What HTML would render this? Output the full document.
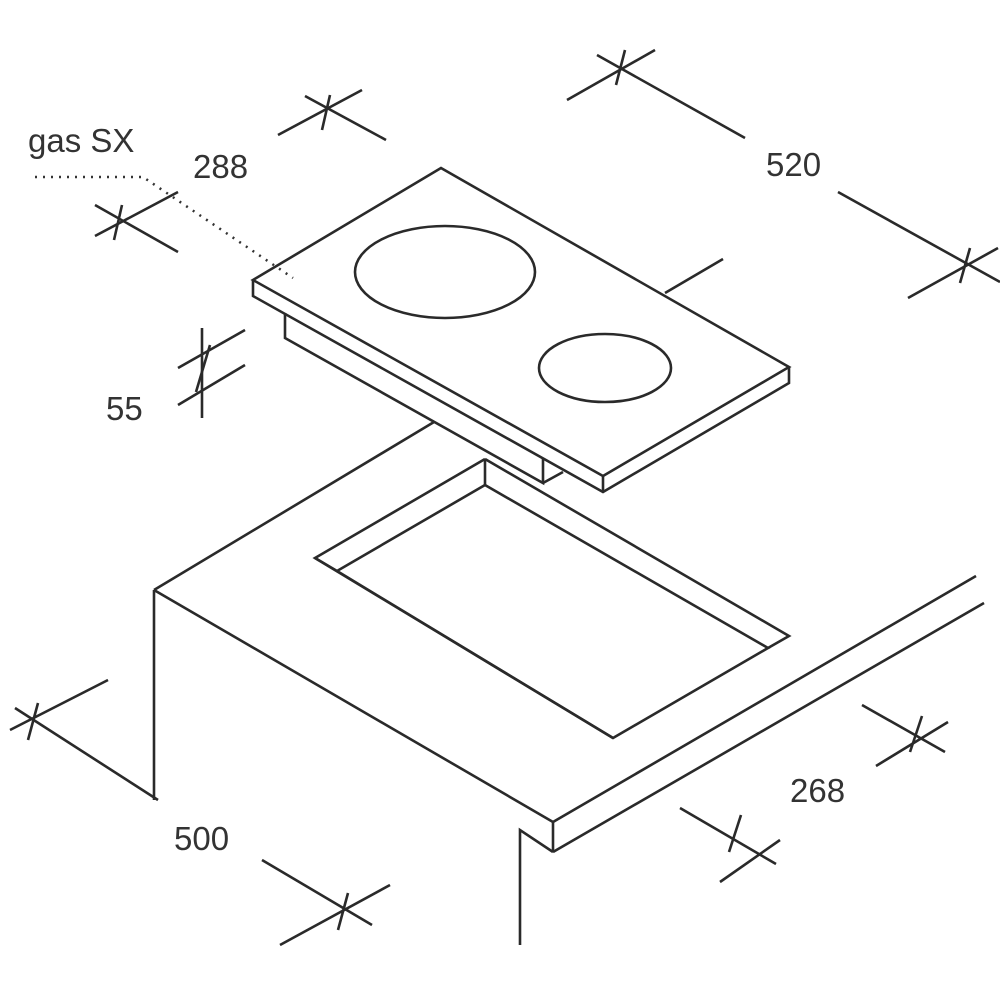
<!DOCTYPE html>
<html><head><meta charset="utf-8"><style>
html,body{margin:0;padding:0;background:#fff;}
svg{display:block;}
text{font-family:"Liberation Sans",sans-serif;font-size:33px;fill:#333;}
</style></head><body>
<svg width="1000" height="1000" viewBox="0 0 1000 1000" xmlns="http://www.w3.org/2000/svg">
<g fill="none" stroke="#2a2a2a" stroke-width="2.6" stroke-linejoin="miter">
<!-- hob top -->
<polygon points="253,280 441,168 789,367 603,476" fill="#fff"/>
<polyline points="253,280 253,296 603,492 789,383 789,367"/>
<line x1="603" y1="476" x2="603" y2="492"/>
<ellipse cx="445" cy="272" rx="90" ry="46"/>
<ellipse cx="605" cy="368" rx="66" ry="34"/>
<!-- under box -->
<polyline points="285,313 285,338 543,483 543,458"/>
<line x1="543" y1="483" x2="563" y2="472"/>
<line x1="665" y1="293" x2="723" y2="259"/>
<!-- countertop -->
<line x1="434" y1="422" x2="154" y2="590"/>
<line x1="154" y1="590" x2="154" y2="800"/>
<line x1="154" y1="590" x2="553" y2="822"/>
<line x1="553" y1="822" x2="553" y2="852"/>
<line x1="553" y1="822" x2="976" y2="576"/>
<line x1="553" y1="852" x2="984" y2="603"/>
<polyline points="553,852 520,830 520,945"/>
<!-- cutout -->
<polyline points="485,459 315,558 613,738"/>
<polyline points="485,459 789,636 768,648"/>
<polyline points="485,485 337,571 613,738 768,648 485,485"/>
<line x1="485" y1="459" x2="485" y2="485"/>
<line x1="315" y1="558" x2="337" y2="571"/>
</g>
<!-- dotted leader -->
<polyline points="35,177 143,177 293,278" fill="none" stroke="#333" stroke-width="2.5" stroke-dasharray="2,6"/>
<!-- dimension marks -->
<g stroke="#2a2a2a" stroke-width="2.6" fill="none">
<!-- 288 -->
<line x1="278" y1="135" x2="362" y2="90"/><line x1="305" y1="96" x2="386" y2="140"/><line x1="330" y1="95" x2="322" y2="130"/>
<line x1="95" y1="236" x2="178" y2="192"/><line x1="95" y1="205" x2="178" y2="252"/><line x1="122" y1="205" x2="114" y2="240"/>
<!-- 520 -->
<line x1="567" y1="100" x2="655" y2="50"/><line x1="597" y1="55" x2="745" y2="138"/><line x1="625" y1="50" x2="616" y2="85"/>
<line x1="838" y1="192" x2="1000" y2="282"/><line x1="908" y1="298" x2="998" y2="248"/><line x1="970" y1="248" x2="960" y2="283"/>
<!-- 55 -->
<line x1="202" y1="328" x2="202" y2="418"/>
<line x1="178" y1="368" x2="245" y2="330"/><line x1="178" y1="405" x2="245" y2="365"/>
<line x1="210" y1="345" x2="196" y2="392"/>
<!-- 500 -->
<line x1="10" y1="730" x2="108" y2="680"/><line x1="15" y1="708" x2="158" y2="800"/><line x1="38" y1="703" x2="28" y2="740"/>
<line x1="262" y1="860" x2="372" y2="925"/><line x1="280" y1="945" x2="390" y2="885"/><line x1="348" y1="893" x2="338" y="930" y2="930"/>
<!-- 268 -->
<line x1="862" y1="705" x2="945" y2="752"/><line x1="876" y1="766" x2="948" y2="722"/><line x1="922" y1="716" x2="910" y2="752"/>
<line x1="680" y1="808" x2="776" y2="864"/><line x1="720" y1="882" x2="780" y2="840"/><line x1="741" y1="815" x2="729" y2="852"/>
</g>
<text x="28" y="152">gas SX</text>
<text x="193" y="178">288</text>
<text x="766" y="176">520</text>
<text x="106" y="420">55</text>
<text x="174" y="850">500</text>
<text x="790" y="802">268</text>
</svg>
</body></html>
